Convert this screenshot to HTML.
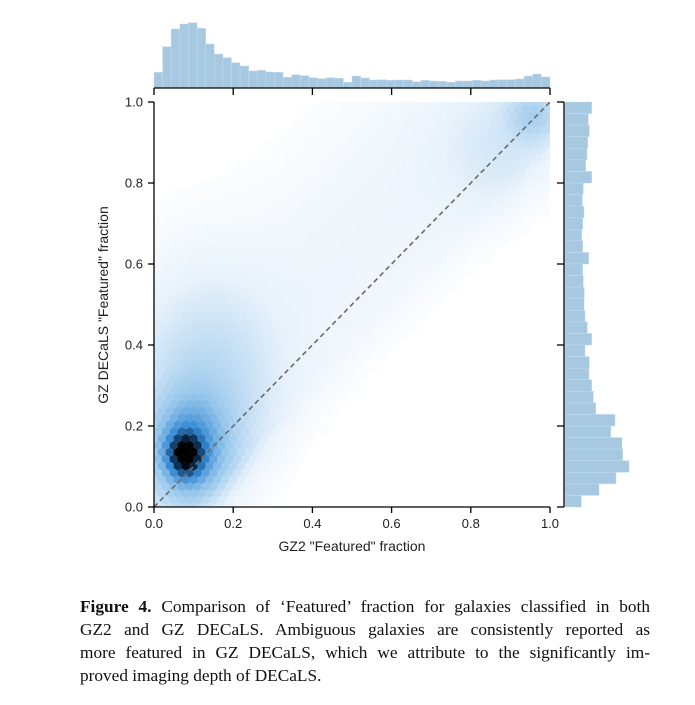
<!DOCTYPE html>
<html><head><meta charset="utf-8"><style>
body{margin:0;background:#fff;width:695px;height:705px;overflow:hidden;position:relative}
.cap{position:absolute;left:80px;width:570px;font-family:"Liberation Serif",serif;font-size:17.3px;color:#111;white-space:nowrap;text-align:justify;text-align-last:justify;line-height:20px}
</style></head><body>
<svg id="s" width="695" height="580" style="position:absolute;left:0;top:0" font-family="Liberation Sans, sans-serif">
<defs><clipPath id="c"><rect x="154" y="102" width="396" height="405"/></clipPath></defs>
<g id="hex" clip-path="url(#c)"></g>
<line x1="154" y1="507" x2="550" y2="102" stroke="#6a6a6a" stroke-width="1.6" stroke-dasharray="5,3.5" clip-path="url(#c)"/>
<g id="tophist"></g><g id="righthist"></g>
<g id="axes" stroke="#000" stroke-width="1.3" fill="none"></g>
<g id="lab" font-size="13" fill="#222"></g>
<text x="352" y="551" font-size="14" text-anchor="middle" fill="#222">GZ2 "Featured" fraction</text>
<text transform="translate(108,305) rotate(-90)" font-size="14" text-anchor="middle" fill="#222">GZ DECaLS "Featured" fraction</text>
</svg>
<div class="cap" style="top:597px"><b>Figure 4.</b> Comparison of ‘Featured’ fraction for galaxies classified in both</div>
<div class="cap" style="top:620px">GZ2 and GZ DECaLS. Ambiguous galaxies are consistently reported as</div>
<div class="cap" style="top:643px">more featured in GZ DECaLS, which we attribute to the significantly im-</div>
<div class="cap" style="top:666px;text-align-last:left">proved imaging depth of DECaLS.</div>
<script>
(function(){
var NS="http://www.w3.org/2000/svg";
function el(p,t,a){var e=document.createElementNS(NS,t);for(var k in a)e.setAttribute(k,a[k]);p.appendChild(e);return e;}
var X0=154,X1=550,Y0=507,Y1=102,W=X1-X0,H=Y0-Y1;
function g(x,y,mx,my,sx,sy){return Math.exp(-((x-mx)*(x-mx)/(2*sx*sx)+(y-my)*(y-my)/(2*sy*sy)));}
function f(x,y){
 var v=1.0*g(x,y,0.08,0.13,0.028,0.035)+0.55*g(x,y,0.09,0.14,0.065,0.085)+0.2*g(x,y,0.13,0.28,0.11,0.17);
 var d=y-(x+0.12);
 v+=0.035*Math.exp(-d*d/(2*0.22*0.22));
 v+=0.22*g(x,y,0.96,0.97,0.045,0.045)+0.08*g(x,y,0.88,0.88,0.1,0.1);
 if(y<x-0.1) v*=Math.exp(-(x-0.1-y)*10);
 return v;}
function col(t){
 var st=[[0,[255,255,255]],[0.15,[232,242,251]],[0.45,[150,198,235]],[0.7,[50,135,210]],[0.88,[12,50,90]],[1,[0,0,0]]];
 for(var i=1;i<st.length;i++){if(t<=st[i][0]){var a=st[i-1],b=st[i],u=(t-a[0])/(b[0]-a[0]);
 return "rgb("+[0,1,2].map(function(k){return Math.round(a[1][k]+(b[1][k]-a[1][k])*u)}).join(",")+")";}}
 return "#000";}
var hg=document.getElementById("hex"),w=7.92,r=w/Math.sqrt(3);
for(var row=0;row*1.5*r<H+10;row++){
 var cy=Y0-row*1.5*r, off=(row%2)?w/2:0;
 for(var cx=X0+off-w;cx<X1+w;cx+=w){
  var x=(cx-X0)/W,y=(Y0-cy)/H,v=f(x,y);
  if(v<0.003)continue;
  var t=Math.min(1,Math.pow(v/1.4,0.6));
  var pts=[];for(var k=0;k<6;k++){var a=Math.PI/3*k+Math.PI/6;pts.push((cx+r*Math.cos(a)).toFixed(2)+","+(cy+r*Math.sin(a)).toFixed(2));}
  var c=col(t);
  el(hg,"polygon",{points:pts.join(" "),fill:c,stroke:c,"stroke-width":"0.3"});
 }}
var th=[187,110,57,42,38,55,102,132,143,158,168,183,181,186,187,202,194,197,203,206,203,205,217,198,204,210,209,211,210,210,215,211,213,214,217,213,213,211,213,210,209,209,207,198,192,201];
var tg=document.getElementById("tophist"),bw=W/th.length;
th.forEach(function(v,i){var yt=10+v/3;el(tg,"rect",{x:X0+i*bw,y:yt,width:bw,height:88-yt,fill:"#a6c8e0",stroke:"#c6dcec","stroke-width":"0.5"});});
var rt=[155,145,148,143,141,137,155,130,127,132,128,125,128,146,128,130,133,132,135,142,155,135,148,147,155,160,167,225,212,246,248,267,228,177,124];
var rg=document.getElementById("righthist"),bh=H/rt.length;
rt.forEach(function(v,i){var xr=540+v/3;el(rg,"rect",{x:565,y:Y1+i*bh,width:xr-565,height:bh,fill:"#a6c8e0",stroke:"#c6dcec","stroke-width":"0.5"});});
var ax=document.getElementById("axes"),lb=document.getElementById("lab");
el(ax,"path",{d:"M154,102V507H550"});
el(ax,"path",{d:"M154,88H550"});
el(ax,"path",{d:"M564,102V507"});
for(var i=0;i<=5;i++){
 var x=X0+i*W/5,y=Y0-i*H/5,s=(i*0.2).toFixed(1);
 el(ax,"path",{d:"M"+x+",507v6"});el(ax,"path",{d:"M"+x+",88v7"});
 el(ax,"path",{d:"M154,"+y+"h-6"});el(ax,"path",{d:"M564,"+y+"h-7"});
 var t=el(lb,"text",{x:x,y:528,"text-anchor":"middle"});t.textContent=s;
 var t2=el(lb,"text",{x:143,y:y+4.5,"text-anchor":"end"});t2.textContent=s;
}
})();
</script>
</body></html>
